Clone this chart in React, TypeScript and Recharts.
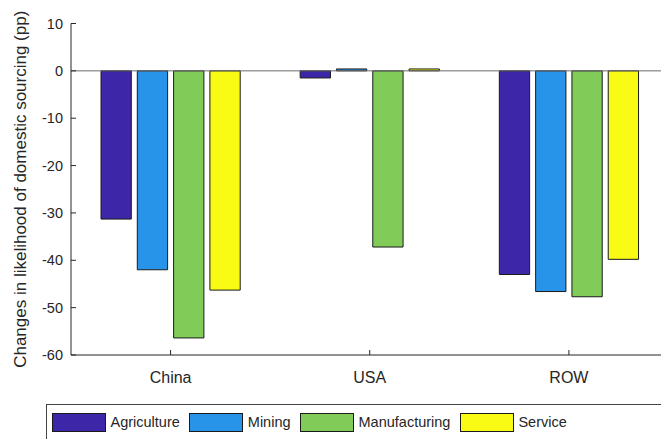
import React from "react";
import { BarChart, Bar, XAxis, YAxis, ReferenceLine, Label } from "recharts";

const regions = ["China", "USA", "ROW"];
const agriculture = [-31.3, -1.5, -43.0];
const mining = [-42.0, 0.4, -46.6];
const manufacturing = [-56.4, -37.2, -47.7];
const service = [-46.3, 0.4, -39.8];
const yTicks = [-60, -50, -40, -30, -20, -10, 0, 10];

const seriesNames = ["Agriculture", "Mining", "Manufacturing", "Service"];
const seriesKeys = ["agriculture", "mining", "manufacturing", "service"];
const seriesColors = ["#3e26a8", "#2794e9", "#81cc59", "#f9fb14"];

const data = regions.map((r, i) => ({
  region: r,
  agriculture: agriculture[i],
  mining: mining[i],
  manufacturing: manufacturing[i],
  service: service[i],
}));

const FONT = '"Liberation Sans", Arial, sans-serif';
const TXT = "#262626";

const YTick = (props: any) => {
  const { x, y, payload } = props;
  return (
    <g>
      <line x1={x} x2={x + 5} y1={y} y2={y} stroke={TXT} strokeWidth={1} />
      <text x={x - 8} y={y} textAnchor="end" dominantBaseline="central" fontSize={14.5} fontFamily={FONT} fill={TXT}>
        {payload.value}
      </text>
    </g>
  );
};

const XTick = (props: any) => {
  const { x, y, payload } = props;
  return (
    <g>
      <line x1={x} x2={x} y1={y} y2={y - 5} stroke={TXT} strokeWidth={1} />
      <text x={x} y={y + 28} textAnchor="middle" fontSize={16} fontFamily={FONT} fill={TXT}>
        {payload.value}
      </text>
    </g>
  );
};

const TopTick = (props: any) => {
  const { x, y } = props;
  return <line x1={x} x2={x} y1={y} y2={y + 5} stroke={TXT} strokeWidth={1} />;
};

const YLabel = (props: any) => {
  const vb = props.viewBox || { x: 0, y: 0, width: 0, height: 0 };
  const cx = 20;
  const cy = vb.y + vb.height / 2;
  return (
    <text
      x={cx}
      y={cy}
      transform={`rotate(-90, ${cx}, ${cy})`}
      textAnchor="middle"
      dominantBaseline="central"
      fontSize={17}
      fontFamily={FONT}
      fill={TXT}
    >
      Changes in likelihood of domestic sourcing (pp)
    </text>
  );
};

export default function App() {
  return (
    <div
      style={{
        position: "fixed",
        left: 0,
        top: 0,
        width: 661,
        height: 439,
        overflow: "hidden",
        background: "#fff",
      }}
    >
      <BarChart
        width={680}
        height={439}
        data={data}
        margin={{ top: 23.5, right: 11.5, left: 0, bottom: 54 }}
        barSize={30.3}
        barGap={6}
      >
        <XAxis
          dataKey="region"
          xAxisId={0}
          height={30}
          tickSize={0}
          tickMargin={0}
          tickLine={false}
          axisLine={{ stroke: TXT }}
          tick={<XTick />}
          interval={0}
        />
        <XAxis
          dataKey="region"
          xAxisId="top"
          orientation="top"
          height={0}
          tickSize={0}
          tickMargin={0}
          tickLine={false}
          axisLine={{ stroke: TXT }}
          tick={<TopTick />}
          interval={0}
        />
        <YAxis
          domain={[-60, 10]}
          ticks={yTicks}
          width={71}
          tickSize={0}
          tickMargin={0}
          tickLine={false}
          axisLine={{ stroke: TXT }}
          tick={<YTick />}
          interval={0}
        >
          <Label content={<YLabel />} />
        </YAxis>
        <ReferenceLine y={0} stroke="#6b6b6b" strokeWidth={1} />
        {seriesKeys.map((k, i) => (
          <Bar
            key={k}
            dataKey={k}
            name={seriesNames[i]}
            fill={seriesColors[i]}
            stroke="#1a1a1a"
            strokeWidth={1}
            isAnimationActive={false}
          />
        ))}
      </BarChart>
      <div
        style={{
          position: "absolute",
          left: 46,
          top: 404,
          width: 640,
          height: 36,
          border: "1px solid #444",
          boxSizing: "border-box",
          display: "flex",
          alignItems: "center",
          paddingLeft: 5,
          fontFamily: FONT,
          fontSize: 14.5,
          color: TXT,
        }}
      >
        {seriesNames.map((n, i) => (
          <div key={n} style={{ display: "flex", alignItems: "center", marginRight: 9.5 }}>
            <div
              style={{
                width: 54,
                height: 19,
                background: seriesColors[i],
                border: "1px solid #1a1a1a",
                boxSizing: "border-box",
                marginRight: 4.5,
              }}
            />
            <span>{n}</span>
          </div>
        ))}
      </div>
    </div>
  );
}
